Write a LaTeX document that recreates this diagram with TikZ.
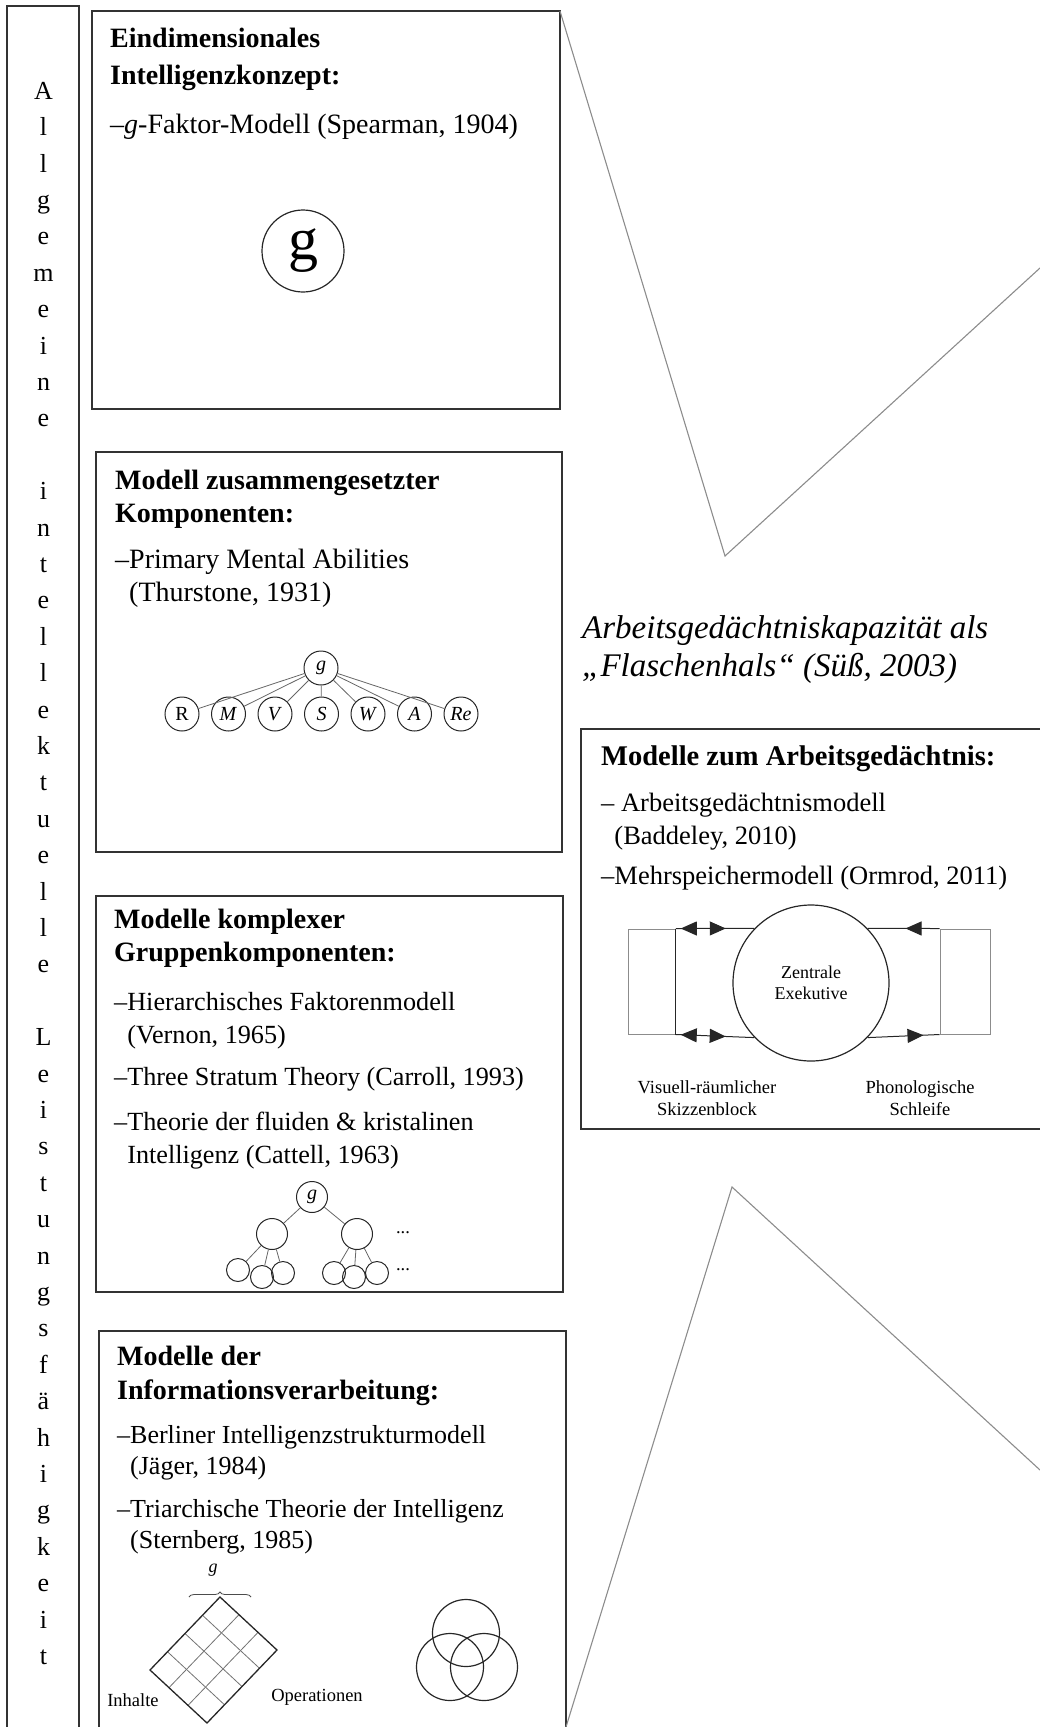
\documentclass[tikz,border=0pt]{standalone}
\usepackage{fontspec}
\setmainfont{Liberation Serif}
\usetikzlibrary{arrows.meta, calc, positioning, decorations.markings, decorations.pathreplacing}

\newcommand{\hd}[1]{{\fontsize{28}{33}\selectfont\bfseries #1}}

\begin{document}
\begin{tikzpicture}[
    x=1pt, y=-1pt,
    >={Triangle[length=16pt, width=14pt]},
    panel/.style={draw=black!80, line width=1.5pt},
    funnel/.style={draw=black!45, line width=1.1pt},
    txt/.style={
        anchor=north west,
        inner sep=0pt,
        align=left,
        font=\fontsize{27}{33}\selectfont
    },
    factor/.style={circle, draw=black!85, line width=1pt, minimum size=34pt,
        inner sep=0pt, font=\fontsize{20}{20}\selectfont},
    leaf/.style={circle, draw=black!85, line width=1pt, inner sep=0pt},
    link/.style={draw=black!60, line width=0.8pt},
    note/.style={font=\fontsize{18.5}{21.5}\selectfont, align=center, inner sep=0pt},
    venn/.style={circle, draw=black!85, line width=1.2pt, minimum size=67pt},
    wmbox/.style={draw=black!45, line width=1pt, inner sep=0pt, minimum height=105pt},
    wmlink/.style={draw=black!85, line width=1pt, postaction={decorate}}
]
\useasboundingbox (0,0) rectangle (1040,1727);

% frames
\draw[panel] (7,1727) -- (7,6) -- (79,6) -- (79,1727);
\draw[panel] (92,11) rectangle (560,409);
\draw[panel] (96,452) rectangle (562,852);
\draw[panel] (96,896) rectangle (563,1292);
\draw[panel] (99,1727) -- (99,1331) -- (566,1331) -- (566,1727);
\draw[panel] (1040,729) -- (581,729) -- (581,1129) -- (1040,1129);

% bottleneck
\draw[funnel] (560,11) -- (725,556) -- (1040,268);
\draw[funnel] (566,1727) -- (732,1187) -- (1040,1470);

\node[anchor=north, inner sep=0pt, align=center, font=\fontsize{26}{36.4}\selectfont] (side) at (43.5,82)
    {A\\l\\l\\g\\e\\m\\e\\i\\n\\e\\[36.4pt]i\\n\\t\\e\\l\\l\\e\\k\\t\\u\\e\\l\\l\\e\\[36.4pt]L\\e\\i\\s\\t\\u\\n\\g\\s\\f\\ä\\h\\i\\g\\k\\e\\i\\t};

% Spearman
\node[txt, font=\fontsize{28}{37}\selectfont] (head1) at (110,28)
    {\hd{Eindimensionales}\\\hd{Intelligenzkonzept:}\\[12pt]–\textit{g}-Faktor-Modell (Spearman, 1904)};
\node[circle, draw=black!85, line width=1.2pt, minimum size=82pt, inner sep=0pt,
    font=\fontsize{60}{60}\selectfont] (g1) at (303,251) {g};

% Thurstone
\node[txt, font=\fontsize{28}{33}\selectfont] (head2) at (115,470)
    {\hd{Modell zusammengesetzter}\\\hd{Komponenten:}\\[13pt]–Primary Mental Abilities\\\phantom{–}(Thurstone, 1931)};
\node[factor] (g2) at (321,668) {\textit{g}};
\node[factor] (r) at (182,714) {R};
\node[factor, right=11.5pt of r] (m) {\textit{M}};
\node[factor, right=11.5pt of m] (v) {\textit{V}};
\node[factor, right=11.5pt of v] (s) {\textit{S}};
\node[factor, right=11.5pt of s] (w) {\textit{W}};
\node[factor, right=11.5pt of w] (a) {\textit{A}};
\node[factor, right=11.5pt of a] (re) {\textit{Re}};
\draw[link] (g2) -- (r);
\draw[link] (g2) -- (m);
\draw[link] (g2) -- (v);
\draw[link] (g2) -- (s);
\draw[link] (g2) -- (w);
\draw[link] (g2) -- (a);
\draw[link] (g2) -- (re);

% Vernon, Carroll, Cattell
\node[txt, font=\fontsize{26.2}{33}\selectfont] (head3) at (114,909)
    {\hd{Modelle komplexer}\\\hd{Gruppenkomponenten:}\\[16pt]–Hierarchisches Faktorenmodell\\\phantom{–}(Vernon, 1965)\\[9pt]–Three Stratum Theory (Carroll, 1993)\\[12pt]–Theorie der fluiden \& kristalinen\\\phantom{–}Intelligenz (Cattell, 1963)};
\node[leaf, minimum size=31pt, font=\fontsize{20}{20}\selectfont] (g3) at (312,1197) {\textit{g}};
\node[leaf, minimum size=31pt] (fl) at (272,1234) {};
\node[leaf, minimum size=31pt] (fr) at (357,1234) {};
\node[leaf, minimum size=23pt] (sl1) at (238,1270) {};
\node[leaf, minimum size=23pt] (sl2) at (262,1277) {};
\node[leaf, minimum size=23pt] (sl3) at (283,1273) {};
\node[leaf, minimum size=23pt] (sr1) at (334,1273) {};
\node[leaf, minimum size=23pt] (sr2) at (354,1277) {};
\node[leaf, minimum size=23pt] (sr3) at (377,1273) {};
\node[note] (dots1) at (403,1233) {...};
\node[note] (dots2) at (403,1270) {...};
\draw[link] (g3) -- (fl);
\draw[link] (g3) -- (fr);
\draw[link] (fl) -- (sl1);
\draw[link] (fl) -- (sl2);
\draw[link] (fl) -- (sl3);
\draw[link] (fr) -- (sr1);
\draw[link] (fr) -- (sr2);
\draw[link] (fr) -- (sr3);

% Jaeger, Sternberg
\node[txt, font=\fontsize{26}{31}\selectfont] (head4) at (117,1346)
    {\hd{Modelle der}\\[3pt]\hd{Informationsverarbeitung:}\\[13pt]–Berliner Intelligenzstrukturmodell\\\phantom{–}(Jäger, 1984)\\[12pt]–Triarchische Theorie der Intelligenz\\\phantom{–}(Sternberg, 1985)};
\coordinate (gt) at (220,1597);
\coordinate (gr) at (277,1650);
\coordinate (gl) at (150,1670);
\coordinate (gb) at (207,1723);
\draw[black!55, line width=0.8pt] ($(gt)!0.25!(gl)$) -- ($(gr)!0.25!(gb)$);
\draw[black!55, line width=0.8pt] ($(gt)!0.5!(gl)$) -- ($(gr)!0.5!(gb)$);
\draw[black!55, line width=0.8pt] ($(gt)!0.75!(gl)$) -- ($(gr)!0.75!(gb)$);
\draw[black!55, line width=0.8pt] ($(gt)!0.333!(gr)$) -- ($(gl)!0.333!(gb)$);
\draw[black!55, line width=0.8pt] ($(gt)!0.667!(gr)$) -- ($(gl)!0.667!(gb)$);
\draw[black!85, line width=1.3pt] (gt) -- (gr) -- (gb) -- (gl) -- cycle;
\draw[black!70, line width=0.8pt, decorate, decoration={brace, amplitude=5pt}] (189,1597) -- (251,1597);
\node[inner sep=0pt, font=\itshape\fontsize{18}{18}\selectfont] (gg) at (213,1570) {g};
\node[note] (inh) at (133,1700) {Inhalte};
\node[note] (ops) at (317,1697) {Operationen};
\node[venn] (v1) at (466,1633) {};
\node[venn] (v2) at (450,1667) {};
\node[venn] (v3) at (484,1667) {};

% working memory
\node[anchor=north west, inner sep=0pt, align=left, font=\itshape\fontsize{33}{38}\selectfont] (neck) at (582,615)
    {Arbeitsgedächtniskapazität als\\„Flaschenhals“ (Süß, 2003)};
\node[txt, font=\fontsize{26.5}{33}\selectfont] (head5) at (601,746)
    {{\fontsize{28.5}{33}\selectfont\bfseries Modelle zum Arbeitsgedächtnis:}\\[13pt]– Arbeitsgedächtnismodell\\\phantom{–}(Baddeley, 2010)\\[7pt]–Mehrspeichermodell (Ormrod, 2011)};
\node[circle, draw=black!85, line width=1.2pt, minimum size=156pt, inner sep=0pt,
    note, font=\fontsize{18}{21}\selectfont] (ze) at (811,983) {Zentrale\\Exekutive};
\node[wmbox, minimum width=46.5pt] (vs) at (652,981.5) {};
\node[wmbox, minimum width=50pt] (pl) at (965,981.5) {};
\draw[black!85, line width=1pt] (vs.north east) -- (vs.south east);
\draw[wmlink, decoration={markings, mark=at position 5pt with {\arrowreversed{>}},
    mark=at position 50pt with {\arrow{>}}}] (vs.north east) -- (ze.136);
\draw[wmlink, decoration={markings, mark=at position 5pt with {\arrowreversed{>}},
    mark=at position 50pt with {\arrow{>}}}] (vs.south east) -- (ze.224);
\draw[wmlink, decoration={markings, mark=at position 38pt with {\arrowreversed{>}}}] (ze.44) -- (pl.north west);
\draw[wmlink, decoration={markings, mark=at position 56pt with {\arrow{>}}}] (ze.316) -- (pl.south west);
\node[note] (vsl) at (707,1098) {Visuell-räumlicher\\Skizzenblock};
\node[note] (pll) at (920,1098) {Phonologische\\Schleife};
\end{tikzpicture}
\end{document}
